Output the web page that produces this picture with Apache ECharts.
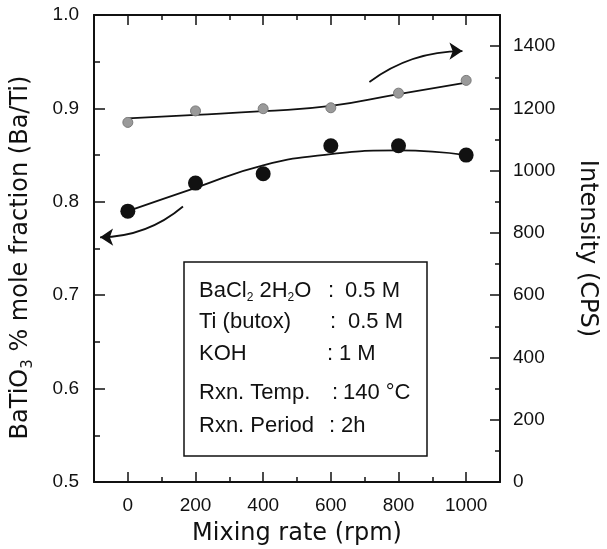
<!DOCTYPE html>
<html>
<head>
<meta charset="utf-8">
<script src="https://cdn.jsdelivr.net/npm/echarts@6/dist/echarts.min.js"></script>
<style>
  html, body { margin: 0; padding: 0; background: #fff; }
  #chart { width: 607px; height: 549px; }
</style>
</head>
<body>
<div id="chart"></div>
<script>
// mixing rate (rpm)
const rates = [0, 200, 400, 600, 800, 1000];
// BaTiO3 mole fraction (left axis)
const moleFraction = [0.79, 0.82, 0.83, 0.86, 0.86, 0.85];
const moleFit = [0.790, 0.815, 0.839, 0.851, 0.855, 0.850];
// intensity (right axis)
const intensity = [1155, 1192, 1199, 1202, 1249, 1290];
const intensityFit = [1168, 1179, 1191, 1208, 1246, 1283];

const xTicks = [0, 200, 400, 600, 800, 1000];
const xMinor = [100, 300, 500, 700, 900];
const rTicks = [0, 200, 400, 600, 800, 1000, 1200, 1400];
const rMinor = [100, 300, 500, 700, 900, 1100, 1300];

// arrows: [start, end] in data units
const leftArrow = [[163, 0.795], [-82, 0.762]];
const rightArrow = [[714, 1285], [989, 1384]];

// conditions box
const boxLabels = ['BaCl{s|2} 2H{s|2}O', 'Ti (butox)', 'KOH', 'Rxn. Temp.', 'Rxn. Period'];
const boxValues = ['0.5 M', '0.5 M', '1 M', '140 °C', '2h'];

const ink = '#111';
const numFont = 'Liberation Sans, Arial, sans-serif';
const titleFont = 'DejaVu Sans, sans-serif';

const chart = echarts.init(document.getElementById('chart'));

function xAxisDef(pos, ticks, len, labels, line) {
  return {
    type: 'value', position: pos, min: -100, max: 1100,
    axisLine: { show: line, onZero: false, lineStyle: { color: ink, width: 2 } },
    axisTick: { show: true, inside: true, length: len, customValues: ticks,
      lineStyle: { color: ink, width: 1.5 } },
    axisLabel: { show: labels, customValues: ticks, margin: 14,
      color: ink, fontSize: 19, fontFamily: numFont, formatter: v => String(v) },
    splitLine: { show: false }
  };
}

// box row layout (pixels)
const rowY = [291, 322, 354, 393, 426];
const colonX = [328, 330, 327, 332, 329];
const valX = [345, 348, 339, 343, 341];
const txt = (x, y, s) => ({ type: 'text', z: 11, x: x, y: y, style: {
  text: s, fill: ink, fontSize: 22, fontFamily: numFont, verticalAlign: 'middle', lineHeight: 26,
  rich: { s: { fontSize: 12, fontFamily: numFont, fill: ink, verticalAlign: 'bottom', lineHeight: 12 } } } });
const boxText = [];
boxLabels.forEach((label, i) => {
  boxText.push(txt(199, rowY[i], label));
  boxText.push(txt(colonX[i], rowY[i], ':'));
  boxText.push(txt(valX[i], rowY[i], boxValues[i]));
});

const option = {
  animation: false,
  grid: { left: 94, right: 107, top: 15, bottom: 67, containLabel: false, outerBoundsMode: 'none' },
  xAxis: [
    Object.assign(xAxisDef('bottom', xTicks, 10, true, true), {
      name: 'Mixing rate (rpm)', nameLocation: 'middle', nameGap: 40,
      nameTextStyle: { color: ink, fontSize: 24, fontFamily: titleFont }
    }),
    xAxisDef('bottom', xMinor, 5, false, false),
    xAxisDef('top', xTicks, 10, false, true),
    xAxisDef('top', xMinor, 5, false, false)
  ],
  yAxis: [
    {
      type: 'value', position: 'left', min: 0.5, max: 1.0, interval: 0.1,
      name: 'BaTiO{s|3} % mole fraction (Ba/Ti)', nameLocation: 'middle', nameGap: 58,
      nameTextStyle: { color: ink, fontSize: 24, fontFamily: titleFont, lineHeight: 30,
        padding: [0, 18, 0, 0],
        rich: { s: { fontSize: 15, lineHeight: 15, verticalAlign: 'bottom', fontFamily: titleFont, color: ink } } },
      axisLine: { show: true, onZero: false, lineStyle: { color: ink, width: 2 } },
      axisTick: { inside: true, length: 11, lineStyle: { color: ink, width: 1.5 } },
      minorTick: { show: true, splitNumber: 2, length: 6, lineStyle: { color: ink, width: 1.5 } },
      axisLabel: { color: ink, fontSize: 19, fontFamily: numFont, margin: 15,
        formatter: v => v.toFixed(1) },
      splitLine: { show: false }
    },
    {
      type: 'value', position: 'right', min: 0, max: 1500,
      name: 'Intensity (CPS)', nameLocation: 'middle', nameGap: 75, nameRotate: -90,
      nameTextStyle: { color: ink, fontSize: 24, fontFamily: titleFont },
      axisLine: { show: true, onZero: false, lineStyle: { color: ink, width: 2 } },
      axisTick: { inside: true, length: 10, customValues: rTicks, lineStyle: { color: ink, width: 1.5 } },
      axisLabel: { customValues: rTicks, color: ink, fontSize: 19, fontFamily: numFont, margin: 13,
        formatter: v => String(v) },
      splitLine: { show: false }
    },
    {
      type: 'value', position: 'right', min: 0, max: 1500,
      axisLine: { show: false, onZero: false },
      axisTick: { inside: true, length: 5, customValues: rMinor, lineStyle: { color: ink, width: 1.5 } },
      axisLabel: { show: false, customValues: rMinor },
      splitLine: { show: false }
    }
  ],
  series: [
    {
      type: 'line', xAxisIndex: 0, yAxisIndex: 0, smooth: 0.5, showSymbol: false,
      lineStyle: { color: ink, width: 1.8 },
      data: rates.map((r, i) => [r, moleFit[i]]), z: 2
    },
    {
      type: 'scatter', xAxisIndex: 0, yAxisIndex: 0, symbolSize: 15,
      itemStyle: { color: ink, opacity: 1 },
      data: rates.map((r, i) => [r, moleFraction[i]]), z: 3
    },
    {
      type: 'line', xAxisIndex: 0, yAxisIndex: 1, smooth: 0.5, showSymbol: false,
      lineStyle: { color: ink, width: 1.8 },
      data: rates.map((r, i) => [r, intensityFit[i]]), z: 2
    },
    {
      type: 'scatter', xAxisIndex: 0, yAxisIndex: 1, symbolSize: 10,
      itemStyle: { color: '#9a9a9a', borderColor: '#7a7a7a', borderWidth: 1, opacity: 1 },
      data: rates.map((r, i) => [r, intensity[i]]), z: 3
    },
    {
      type: 'lines', coordinateSystem: 'cartesian2d', xAxisIndex: 0, yAxisIndex: 0,
      symbol: ['none', 'arrow'], symbolSize: [9, 13],
      lineStyle: { color: ink, width: 1.8, curveness: 0.18, opacity: 1 },
      itemStyle: { color: ink },
      data: [{ coords: leftArrow }]
    },
    {
      type: 'lines', coordinateSystem: 'cartesian2d', xAxisIndex: 0, yAxisIndex: 1,
      symbol: ['none', 'arrow'], symbolSize: [9, 13],
      lineStyle: { color: ink, width: 1.8, curveness: 0.165, opacity: 1 },
      itemStyle: { color: ink },
      data: [{ coords: rightArrow }]
    }
  ],
  graphic: [
    {
      type: 'rect', z: 10,
      shape: { x: 184, y: 262, width: 243, height: 194 },
      style: { fill: '#fff', stroke: ink, lineWidth: 1.5 }
    }
  ].concat(boxText)
};

chart.setOption(option);
</script>
</body>
</html>
